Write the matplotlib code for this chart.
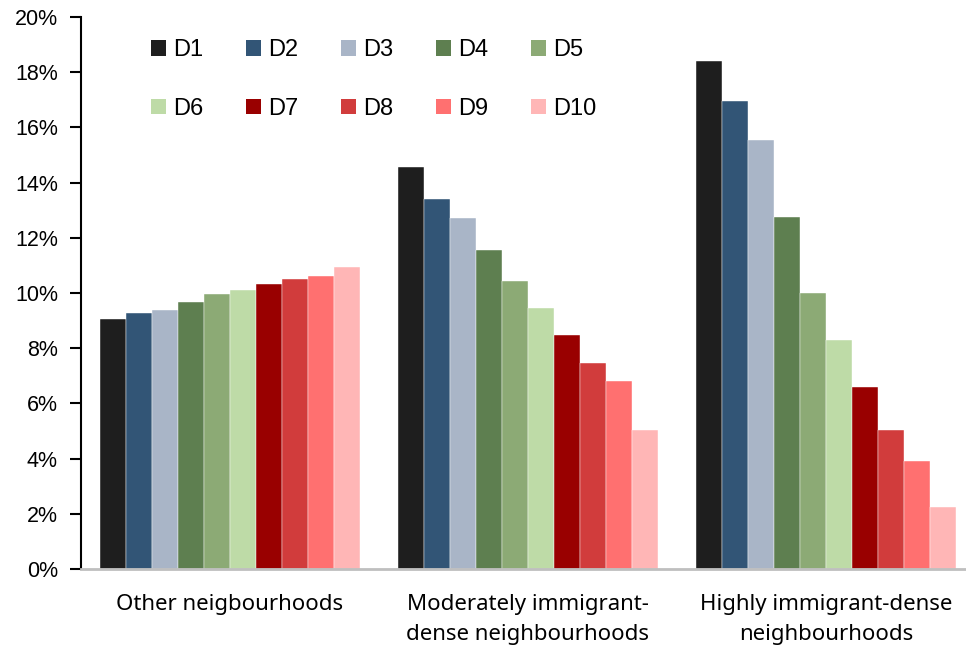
import matplotlib
matplotlib.use("Agg")
import matplotlib.pyplot as plt
import numpy as np
from matplotlib.patches import Patch
from matplotlib.ticker import FuncFormatter

plt.rcParams['font.family'] = ['Liberation Sans', 'DejaVu Sans']

categories = ["Other neigbourhoods",
              "Moderately immigrant-\ndense neighbourhoods",
              "Highly immigrant-dense\nneighbourhoods"]
deciles = ["D1", "D2", "D3", "D4", "D5", "D6", "D7", "D8", "D9", "D10"]

# share (%) by income decile, one list per decile across the three neighbourhood types
D1 = [9.06, 14.55, 18.41]
D2 = [9.26, 13.39, 16.96]
D3 = [9.40, 12.73, 15.55]
D4 = [9.66, 11.55, 12.76]
D5 = [9.95, 10.42, 10.01]
D6 = [10.11, 9.46, 8.28]
D7 = [10.34, 8.47, 6.58]
D8 = [10.50, 7.48, 5.03]
D9 = [10.62, 6.80, 3.91]
D10 = [10.94, 5.02, 2.24]
series = [D1, D2, D3, D4, D5, D6, D7, D8, D9, D10]

colors = ["#1e1e1e", "#325576", "#a9b5c7", "#5e7f50", "#8caa75",
          "#bedba7", "#990000", "#d13c3c", "#ff7070", "#ffb6b6"]

fig = plt.figure(figsize=(9.66, 6.53), dpi=100)
ax = fig.add_axes([81 / 966, 84 / 653, 894 / 966, 552 / 653])

x = np.arange(len(categories))
n = len(series)
w = 0.0872
for i, (vals, c) in enumerate(zip(series, colors)):
    offs = (i - (n - 1) / 2) * w
    ax.bar(x + offs, vals, width=w, color=c, edgecolor="white", linewidth=0.3, zorder=2)

ax.set_xlim(-0.5, 2.5)
ax.set_ylim(0, 20)
ax.set_yticks(np.arange(0, 21, 2))
ax.yaxis.set_major_formatter(FuncFormatter(lambda v, p: f"{v:.0f}%"))
ax.set_xticks(x)
ax.set_xticklabels(categories, fontsize=16, linespacing=1.55, family=["Noto Sans", "DejaVu Sans"])
ax.tick_params(axis="x", length=0, pad=18)
ax.tick_params(axis="y", labelsize=15.5, length=8, width=1.5, direction="out", pad=8.6, color="black")

for s in ["top", "right"]:
    ax.spines[s].set_visible(False)
ax.spines["left"].set_linewidth(1.5)
ax.spines["left"].set_color("black")
ax.spines["bottom"].set_linewidth(2)
ax.spines["bottom"].set_color("#bfbfbf")

# legend laid out row by row: D1-D5 on top, D6-D10 below
order = [0, 5, 1, 6, 2, 7, 3, 8, 4, 9]
handles = [Patch(facecolor=colors[k], edgecolor="none") for k in order]
labels = [deciles[k] for k in order]
ax.legend(handles, labels, ncol=5, loc="upper left", bbox_to_anchor=(0.0646, 0.981),
          frameon=False, fontsize=17, handlelength=0.65, handleheight=0.65,
          handletextpad=0.3, columnspacing=1.8, labelspacing=1.55, borderpad=0)

fig.savefig("out.png", dpi=100)
